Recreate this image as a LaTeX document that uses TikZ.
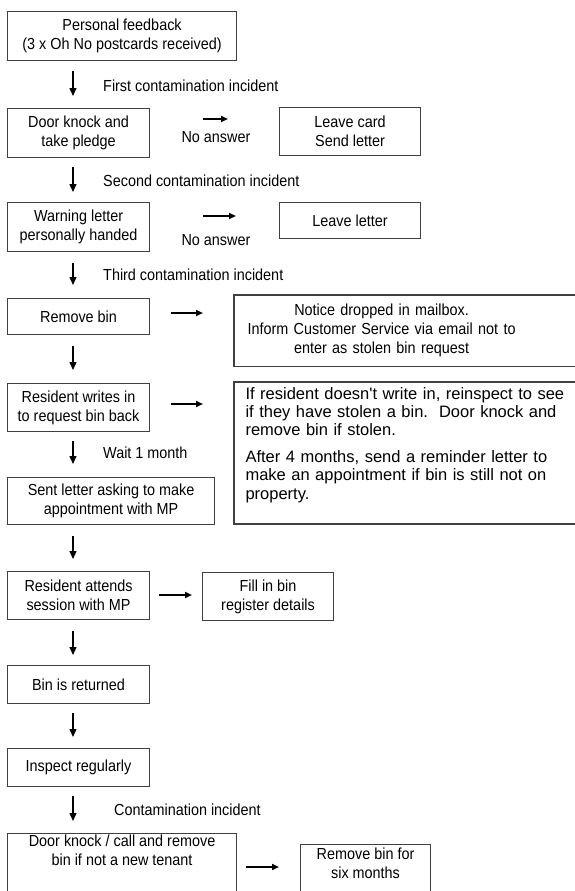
\documentclass[tikz,border=0pt]{standalone}
\usepackage{fontspec}
\setmainfont[FakeStretch=0.9]{Liberation Sans}
\newfontfamily\widefont{Liberation Sans}
\usetikzlibrary{arrows.meta}
\tikzset{
	box/.style={draw=black!75, line width=1.1pt, align=center, inner sep=0pt, anchor=north west},
	frame/.style={draw=black!75, line width=1.1pt},
	down/.style={-{Triangle[length=8pt,width=7pt]}, line width=1.4pt},
	across/.style={-{Triangle[length=7pt,width=6pt]}, line width=2pt},
	lbl/.style={anchor=west, inner sep=0pt}
}
\begin{document}
\begin{tikzpicture}[x=1pt, y=-1pt, font=\fontsize{16}{18.8}\selectfont]
	\useasboundingbox (0,0) rectangle (574,891);
	\node[box, minimum width=229, minimum height=49] (feedback) at (7,11) {Personal feedback\\(3 x Oh No postcards received)};
	\node[box, minimum width=142, minimum height=49] (pledge) at (7,108) {Door knock and\\take pledge};
	\node[box, minimum width=141, minimum height=48] (card) at (279,107) {Leave card\\Send letter};
	\node[box, minimum width=142, minimum height=49] (warning) at (7,202) {Warning letter\\personally handed};
	\node[box, minimum width=141, minimum height=36] (leave) at (279,202) {Leave letter};
	\node[box, minimum width=142, minimum height=36] (remove) at (7,298) {Remove bin};
	\node[box, draw=none, text width=294, minimum height=70] (notice) at (234,295) {Notice dropped in mailbox.\\Inform Customer Service via email not to\\enter as stolen bin request};
	\node[box, minimum width=142, minimum height=48] (writes) at (7,383) {Resident writes in\\to request bin back};
	\node[box, draw=none, align=left, text width=330, inner xsep=11pt, inner ysep=5pt, font=\widefont\fontsize{16.5}{18.2}\selectfont] (stolen) at (234,382) {If resident doesn't write in, reinspect to see\\if they have stolen a bin.\ \ Door knock and\\remove bin if stolen.\\[8.5pt]After 4 months, send a reminder letter to\\make an appointment if bin is still not on\\property.};
	\node[box, minimum width=207, minimum height=47] (sent) at (7,477) {Sent letter asking to make\\appointment with MP};
	\node[box, minimum width=142, minimum height=48] (attends) at (7,571) {Resident attends\\session with MP};
	\node[box, minimum width=131, minimum height=48] (fill) at (202,572) {Fill in bin\\register details};
	\node[box, minimum width=142, minimum height=38] (returned) at (7,665) {Bin is returned};
	\node[box, minimum width=142, minimum height=38] (inspect) at (7,748) {Inspect regularly};
	\node[box, minimum width=229, minimum height=70, text depth=36pt] (call) at (7,833) {Door knock / call and remove\\bin if not a new tenant};
	\node[box, minimum width=130, minimum height=60, text depth=22pt] (six) at (300,844) {Remove bin for\\six months};
	\draw[frame] (notice.north west) rectangle ([shift={(60,0)}]notice.south east);
	\draw[frame] (stolen.north west) rectangle ([shift={(60,142)}]stolen.north east);
	\node[lbl] (first) at (103,86) {First contamination incident};
	\node[lbl] (second) at (103,181) {Second contamination incident};
	\node[lbl] (third) at (103,275) {Third contamination incident};
	\node[lbl] (wait) at (103,453) {Wait 1 month};
	\node[lbl] (again) at (114,810) {Contamination incident};
	\node (noans1) at (216,137) {No answer};
	\node (noans2) at (216,240) {No answer};
	\draw[down] ([shift={(66,10)}]feedback.south west) -- ([shift={(66,-12)}]pledge.north west);
	\draw[down] ([shift={(66,9)}]pledge.south west) -- ([shift={(66,-10)}]warning.north west);
	\draw[down] ([shift={(66,11)}]warning.south west) -- ([shift={(66,-13)}]remove.north west);
	\draw[down] ([shift={(66,11)}]remove.south west) -- ([shift={(66,-13)}]writes.north west);
	\draw[down] ([shift={(66,9)}]writes.south west) -- ([shift={(66,-13)}]sent.north west);
	\draw[down] ([shift={(66,11)}]sent.south west) -- ([shift={(66,-12)}]attends.north west);
	\draw[down] ([shift={(66,11)}]attends.south west) -- ([shift={(66,-10)}]returned.north west);
	\draw[down] ([shift={(66,9)}]returned.south west) -- ([shift={(66,-11)}]inspect.north west);
	\draw[down] ([shift={(66,9)}]inspect.south west) -- ([shift={(66,-12)}]call.north west);
	\draw[across] ([shift={(53,11)}]pledge.north east) -- ([shift={(-51,12)}]card.north west);
	\draw[across] ([shift={(53,14)}]warning.north east) -- ([shift={(-43,14)}]leave.north west);
	\draw[across] ([shift={(21,15)}]remove.north east) -- ([shift={(-31,18)}]notice.north west);
	\draw[across] ([shift={(21,21)}]writes.north east) -- ([shift={(-31,22)}]stolen.north west);
	\draw[across] ([shift={(9,24)}]attends.north east) -- ([shift={(-10,23)}]fill.north west);
	\draw[across] ([shift={(9,34)}]call.north east) -- ([shift={(-21,23)}]six.north west);
\end{tikzpicture}
\end{document}
